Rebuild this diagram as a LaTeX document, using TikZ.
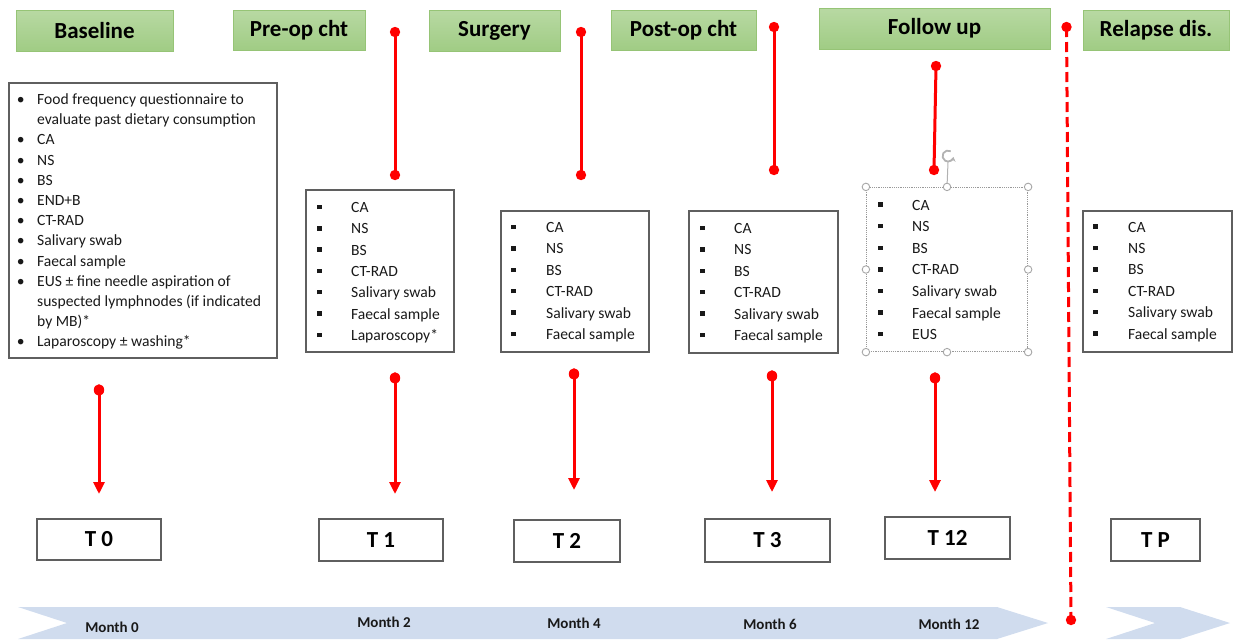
\documentclass[tikz,border=0pt]{standalone}
\usepackage{fontspec}
\setmainfont{Carlito}
\usetikzlibrary{arrows.meta}
\definecolor{hdrtop}{RGB}{184,217,163}
\definecolor{hdrbot}{RGB}{160,204,132}
\definecolor{hdrdraw}{RGB}{150,196,118}
\definecolor{bandc}{RGB}{208,220,238}
\definecolor{boxline}{RGB}{95,95,95}
\newcommand\sqbul{\rule[3.3pt]{4.4pt}{4.4pt}}
\newcommand\rdbul{\makebox[9pt][c]{•}}
\begin{document}
\begin{tikzpicture}[x=1pt,y=-1pt,
  hdr/.style={draw=hdrdraw, top color=hdrtop, bottom color=hdrbot, line width=0.7pt, inner sep=0pt, font=\fontsize{23}{26}\selectfont\bfseries},
  lbox/.style={draw=boxline, line width=1.2pt, inner sep=0pt},
  tbox/.style={draw=boxline, line width=1.2pt, inner sep=0pt, font=\fontsize{23}{26}\selectfont\bfseries},
  ltext/.style={anchor=base west, inner sep=0pt, text=black!90},
  redline/.style={draw=red, line width=3pt},
  redarrow/.style={draw=red, line width=3pt, -{Triangle[width=11pt,length=12pt]}},
  month/.style={inner sep=0pt, text=black!90, font=\fontsize{15}{18}\selectfont\bfseries},
  handle/.style={circle, draw=gray!70, fill=white, line width=0.9pt, minimum size=7.5pt, inner sep=0pt},
]
\useasboundingbox (0,0) rectangle (1233,641);

% timeline band
\fill[bandc] (18,607) -- (997,607) -- (1048,623) -- (997,639) -- (18,639) -- (67,623) -- cycle;
\fill[bandc] (1106,607) -- (1180,607) -- (1230,623) -- (1180,639) -- (1106,639) -- (1155,623) -- cycle;
\node[month] (m0) at (112,627) {Month 0};
\node[month] (m2) at (384,622) {Month 2};
\node[month] (m4) at (574,623) {Month 4};
\node[month] (m6) at (770,624) {Month 6};
\node[month] (m12) at (949,624) {Month 12};

% headers
\node[hdr, minimum width=157pt, minimum height=41pt] (h0) at (94.5,30.5) {Baseline};
\node[hdr, minimum width=132pt, minimum height=40pt] (h1) at (299,30) {Pre-op cht};
\node[hdr, minimum width=131pt, minimum height=41pt] (h2) at (494.5,30.5) {Surgery};
\node[hdr, minimum width=145pt, minimum height=40pt] (h3) at (683.5,30) {Post-op cht};
\node[hdr, minimum width=231pt, minimum height=41pt] (h12) at (934.5,28.5) {Follow up};
\node[hdr, minimum width=146pt, minimum height=40pt] (hp) at (1156,30) {Relapse dis.};

% list boxes
\node[lbox, minimum width=268pt, minimum height=275pt] (b0) at (143,220.5) {};
\node[lbox, minimum width=148pt, minimum height=162pt] (b1) at (380,271) {};
\node[lbox, minimum width=148pt, minimum height=141pt] (b2) at (575,281.5) {};
\node[lbox, minimum width=149pt, minimum height=142pt] (b3) at (763.5,282) {};
\node[draw=gray!80, densely dotted, line width=1.2pt, inner sep=0pt, minimum width=161pt, minimum height=164pt] (b12) at (947,269.5) {};
\node[lbox, minimum width=149pt, minimum height=141pt] (bp) at (1157.5,281.5) {};

% list texts
\node[ltext, font=\fontsize{15.6}{20.2}\selectfont] (t0) at (16,104.5) {\begin{tabular}[t]{@{}p{21pt}@{}l@{}}
\rdbul & Food frequency questionnaire to\\
 & evaluate past dietary consumption\\
\rdbul & CA\\
\rdbul & NS\\
\rdbul & BS\\
\rdbul & END+B\\
\rdbul & CT-RAD\\
\rdbul & Salivary swab\\
\rdbul & Faecal sample\\
\rdbul & EUS ± fine needle aspiration of\\
 & suspected lymphnodes (if indicated\\
 & by MB)*\\
\rdbul & Laparoscopy ± washing*
\end{tabular}};
\node[ltext, font=\fontsize{15.6}{21.3}\selectfont] (t1) at (317,212.5) {\begin{tabular}[t]{@{}p{34pt}@{}l@{}}
\sqbul & CA\\ \sqbul & NS\\ \sqbul & BS\\ \sqbul & CT-RAD\\ \sqbul & Salivary swab\\ \sqbul & Faecal sample\\ \sqbul & Laparoscopy*
\end{tabular}};
\node[ltext, font=\fontsize{15.6}{21.4}\selectfont] (t2) at (511,232.5) {\begin{tabular}[t]{@{}p{35pt}@{}l@{}}
\sqbul & CA\\ \sqbul & NS\\ \sqbul & BS\\ \sqbul & CT-RAD\\ \sqbul & Salivary swab\\ \sqbul & Faecal sample
\end{tabular}};
\node[ltext, font=\fontsize{15.6}{21.4}\selectfont] (t3) at (700,233.5) {\begin{tabular}[t]{@{}p{34pt}@{}l@{}}
\sqbul & CA\\ \sqbul & NS\\ \sqbul & BS\\ \sqbul & CT-RAD\\ \sqbul & Salivary swab\\ \sqbul & Faecal sample
\end{tabular}};
\node[ltext, font=\fontsize{15.6}{21.6}\selectfont] (t12) at (878,210) {\begin{tabular}[t]{@{}p{34pt}@{}l@{}}
\sqbul & CA\\ \sqbul & NS\\ \sqbul & BS\\ \sqbul & CT-RAD\\ \sqbul & Salivary swab\\ \sqbul & Faecal sample\\ \sqbul & EUS
\end{tabular}};
\node[ltext, font=\fontsize{15.6}{21.4}\selectfont] (tp) at (1093,232) {\begin{tabular}[t]{@{}p{35pt}@{}l@{}}
\sqbul & CA\\ \sqbul & NS\\ \sqbul & BS\\ \sqbul & CT-RAD\\ \sqbul & Salivary swab\\ \sqbul & Faecal sample
\end{tabular}};

% selection handles on the follow-up box
\coordinate (rot) at (948,156);
\draw[gray!60, line width=1pt] (b12.north) -- ([yshift=-6pt]rot);
\draw[gray!60, line width=1.8pt, -{Stealth[length=4.5pt,width=6pt]}] (rot) ++(60:5.5pt) arc[start angle=60, end angle=350, radius=5.5pt];
\foreach \a in {north west,north,north east,west,east,south west,south,south east}
  \node[handle] at (b12.\a) {};

% time boxes
\node[tbox, minimum width=124pt, minimum height=41pt] (T0) at (99,539.5) {T 0};
\node[tbox, minimum width=124pt, minimum height=42pt] (T1) at (381,540) {T 1};
\node[tbox, minimum width=106pt, minimum height=42pt] (T2) at (567,541) {T 2};
\node[tbox, minimum width=125pt, minimum height=43pt] (T3) at (767.5,540.5) {T 3};
\node[tbox, minimum width=125pt, minimum height=42pt] (T12) at (947.5,538) {T 12};
\node[tbox, minimum width=89pt, minimum height=42pt] (TP) at (1155.5,540) {T P};

% upper red connectors
\coordinate (u1a) at (395,32);  \coordinate (u1b) at (395,175);
\coordinate (u2a) at (581,32);  \coordinate (u2b) at (581,175);
\coordinate (u3a) at (774,27);  \coordinate (u3b) at (774,170);
\coordinate (u12a) at (936,66); \coordinate (u12b) at (934,170);
\foreach \p in {1,2,3,12}{
  \draw[redline] (u\p a) -- (u\p b);
  \fill[red] (u\p a) circle (5.2pt);
  \fill[red] (u\p b) circle (5.2pt);
}
% dashed separator
\coordinate (da) at (1066.5,27); \coordinate (db) at (1071,620);
\draw[red, line width=3pt, dash pattern=on 10pt off 5pt] (da) -- (db);
\fill[red] (da) circle (5.2pt);
\fill[red] (db) circle (5.2pt);

% lower red arrows
\coordinate (l0a) at (99,390);   \coordinate (l0b) at (99,494);
\coordinate (l1a) at (395,378);  \coordinate (l1b) at (395,494);
\coordinate (l2a) at (574,374);  \coordinate (l2b) at (574,490);
\coordinate (l3a) at (772,376);  \coordinate (l3b) at (772,492);
\coordinate (l12a) at (935,378); \coordinate (l12b) at (935,492);
\foreach \p in {0,1,2,3,12}{
  \draw[redarrow] (l\p a) -- (l\p b);
  \fill[red] (l\p a) circle[x radius=5.2pt, y radius=5.8pt];
}
\end{tikzpicture}
\end{document}
